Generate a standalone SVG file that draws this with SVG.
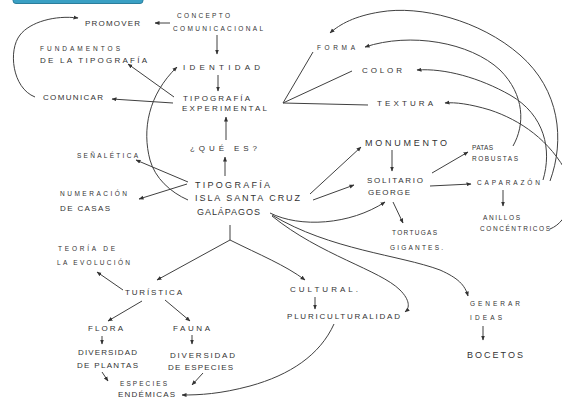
<svg xmlns="http://www.w3.org/2000/svg" width="562" height="402" viewBox="0 0 562 402">
<defs>
<style>
text{font-family:"Liberation Sans","DejaVu Sans",sans-serif;font-size:8px;fill:#333333;}
text.b{font-size:9px;}
text.s{font-size:6.5px;}
.c path{fill:none;stroke:#404040;stroke-width:1;}
.c path.a{marker-end:url(#ah);}
</style>
<marker id="ah" viewBox="0 0 10 10" refX="9" refY="5" markerWidth="5" markerHeight="5" orient="auto"><path d="M0,1 L10,5 L0,9 z" fill="#333"/></marker>
</defs>
<rect width="562" height="402" fill="#ffffff"/>
<rect x="13" y="-6" width="130" height="9.5" rx="3" fill="#3aa0c4" stroke="#2b7e9c" stroke-width="1"/>

<g class="c" id="connectors">
<path class="a" d="M170,23 L155,23"/>
<path class="a" d="M217,35 L217,54"/>
<path class="a" d="M218,75 L218,91"/>
<path class="a" d="M174,97 L128,64"/>
<path class="a" d="M173,103 L112,99"/>
<path class="a" d="M35,97 C12,88 8,50 20,35 C30,22 55,15 78,18"/>
<path class="a" d="M226,140 L226,117"/>
<path class="a" d="M225,176 L225,157"/>
<path class="a" d="M188,200 C170,192 155,178 150,160 C142,130 148,95 177,67"/>
<path class="a" d="M188,182 L136,160"/>
<path class="a" d="M187,184 L139,199"/>
<path d="M313,52 L283,103 L368,105"/>
<path d="M352,71 L283,103"/>
<path class="a" d="M310,194 L361,147"/>
<path class="a" d="M313,200 L354,185"/>
<path class="a" d="M270,213 C300,228 350,225 385,202"/>
<path class="a" d="M392,150 L392,171"/>
<path class="a" d="M393,202 L403,223"/>
<path class="a" d="M432,173 L468,152"/>
<path class="a" d="M430,186 L471,184"/>
<path class="a" d="M503,190 L503,206"/>
<path class="a" d="M272,216 C320,255 380,270 400,290 C410,300 410,308 405,312"/>
<path class="a" d="M272,215 C330,250 400,255 440,270 C458,278 465,285 468,296"/>
<path d="M230,225 L230,240"/>
<path class="a" d="M230,240 L157,280"/>
<path class="a" d="M230,240 C260,255 285,265 305,280"/>
<path class="a" d="M123,290 L97,272"/>
<path class="a" d="M142,301 L108,321"/>
<path class="a" d="M165,300 L190,321"/>
<path class="a" d="M102,336 L102,344"/>
<path class="a" d="M192,335 L192,344"/>
<path class="a" d="M102,372 L108,381"/>
<path class="a" d="M203,373 L192,385"/>
<path class="a" d="M334,324 C320,355 290,375 250,386 C220,394 200,395 182,395"/>
<path class="a" d="M315,297 L315,309"/>
<path class="a" d="M483,326 L483,340"/>
<path class="a" d="M513,146 C525,125 525,95 500,70 C470,42 410,32 365,47"/>
<path class="a" d="M543,180 C552,150 545,115 510,95 C480,78 445,68 417,70"/>
<path class="a" d="M550,181 C565,140 560,90 520,55 C480,20 420,5 380,12 C355,16 340,24 330,33"/>
<path class="a" d="M568,175 C550,140 520,120 490,110 C470,104 455,102 445,103"/>
<path d="M550,229 C560,225 566,216 570,205"/>
</g>

<g id="promover"><text x="85" y="26" textLength="55">PROMOVER</text></g>
<g id="concepto"><text class="s" x="177" y="18" textLength="53">CONCEPTO</text><text class="s" x="173" y="31" textLength="90">COMUNICACIONAL</text></g>
<g id="fundamentos"><text class="s" x="40" y="51" textLength="80">FUNDAMENTOS</text><text x="40" y="63" textLength="107">DE LA TIPOGRAFÍA</text></g>
<g id="identidad"><text x="183" y="70" textLength="77">IDENTIDAD</text></g>
<g id="comunicar"><text x="43" y="100" textLength="60">COMUNICAR</text></g>
<g id="tipo-exp"><text x="183" y="101" textLength="67">TIPOGRAFÍA</text><text x="182" y="111" textLength="85">EXPERIMENTAL</text></g>
<g id="que-es"><text x="190" y="151" textLength="67">¿QUÉ ES?</text></g>
<g id="senaletica"><text class="s" x="77" y="158" textLength="61">SEÑALÉTICA</text></g>
<g id="tipo-isla"><text class="b" x="195" y="188" textLength="75">TIPOGRAFÍA</text><text class="b" x="195" y="201" textLength="105">ISLA SANTA CRUZ</text><text class="b" x="197" y="215" textLength="63">GALÁPAGOS</text></g>
<g id="numeracion"><text class="s" x="60" y="196" textLength="67">NUMERACIÓN</text><text x="60" y="211" textLength="50">DE CASAS</text></g>
<g id="teoria"><text class="s" x="58" y="251" textLength="57">TEORÍA DE</text><text class="s" x="57" y="265" textLength="73">LA EVOLUCIÓN</text></g>
<g id="forma"><text class="s" x="317" y="50" textLength="38">FORMA</text></g>
<g id="color"><text x="362" y="73" textLength="40">COLOR</text></g>
<g id="textura"><text x="377" y="106" textLength="56">TEXTURA</text></g>
<g id="monumento"><text class="b" x="365" y="146" textLength="82">MONUMENTO</text></g>
<g id="solitario"><text x="367" y="183" textLength="56">SOLITARIO</text><text x="368" y="195" textLength="42">GEORGE</text></g>
<g id="patas"><text class="s" x="472" y="150" textLength="21">PATAS</text><text class="s" x="472" y="161" textLength="46">ROBUSTAS</text></g>
<g id="caparazon"><text class="s" x="477" y="185" textLength="63">CAPARAZÓN</text></g>
<g id="anillos"><text class="s" x="483" y="220" textLength="37">ANILLOS</text><text class="s" x="480" y="231" textLength="70">CONCÉNTRICOS</text></g>
<g id="tortugas"><text class="s" x="392" y="235" textLength="45">TORTUGAS</text><text class="s" x="390" y="250" textLength="53">GIGANTES.</text></g>
<g id="turistica"><text x="125" y="295" textLength="57">TURÍSTICA</text></g>
<g id="flora"><text x="88" y="331" textLength="35">FLORA</text></g>
<g id="fauna"><text x="173" y="331" textLength="37">FAUNA</text></g>
<g id="div-plantas"><text x="78" y="355" textLength="59">DIVERSIDAD</text><text x="77" y="368" textLength="61">DE PLANTAS</text></g>
<g id="div-especies"><text x="170" y="358" textLength="65">DIVERSIDAD</text><text x="168" y="370" textLength="65">DE ESPECIES</text></g>
<g id="endemicas"><text class="s" x="120" y="386" textLength="47">ESPECIES</text><text x="118" y="397" textLength="57">ENDÉMICAS</text></g>
<g id="cultural"><text x="290" y="292" textLength="68">CULTURAL.</text></g>
<g id="pluri"><text x="287" y="319" textLength="113">PLURICULTURALIDAD</text></g>
<g id="generar"><text class="s" x="470" y="306" textLength="50">GENERAR</text><text class="s" x="470" y="320" textLength="32">IDEAS</text></g>
<g id="bocetos"><text class="b" x="467" y="358" textLength="56">BOCETOS</text></g>
</svg>
